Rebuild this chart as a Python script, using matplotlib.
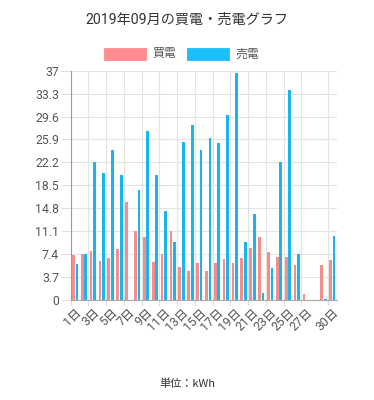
import matplotlib
matplotlib.use("Agg")
import matplotlib.pyplot as plt
from matplotlib.patches import Rectangle
import numpy as np

plt.rcParams['font.family'] = ['Roboto', 'Noto Sans CJK JP', 'DejaVu Sans']

title = "2019年09月の買電・売電グラフ"
days = [f"{d}日" for d in range(1, 31)]
buy = [7.2, 7.5, 7.9, 6.3, 6.7, 8.2, 15.8, 11.1, 10.2, 6.2,
       7.5, 11.1, 5.3, 4.7, 6.0, 4.7, 6.0, 6.6, 6.0, 6.8,
       8.4, 10.2, 7.7, 7.0, 7.0, 5.6, 1.0, 0.0, 5.6, 6.5]
sell = [5.8, 7.5, 22.3, 20.5, 24.2, 20.2, 0.0, 17.7, 27.3, 20.1,
        14.4, 9.4, 25.5, 28.2, 24.2, 26.2, 25.4, 29.9, 36.7, 9.4,
        13.9, 1.1, 5.2, 22.3, 33.9, 7.5, 0.0, 0.0, 0.2, 10.4]
series_names = ["買電", "売電"]
yticks = [0, 3.7, 7.4, 11.1, 14.8, 18.5, 22.2, 25.9, 29.6, 33.3, 37]
ytick_labels = ["0", "3.7", "7.4", "11.1", "14.8", "18.5", "22.2", "25.9", "29.6", "33.3", "37"]
shown_days = [1, 3, 5, 7, 9, 11, 13, 15, 17, 19, 21, 23, 25, 27, 30]
unit_label = "単位：kWh"

pink_face = '#F28E8E'
blue_face = '#1CB4EC'

W, H = 374, 400
fig = plt.figure(figsize=(W / 100, H / 100), dpi=100)
ax = fig.add_axes([70.7 / W, 100 / H, 266 / W, 229.3 / H])

x = np.arange(len(days))
bw = 0.31
ax.bar(x - 0.2, buy, width=bw, color=pink_face, linewidth=0, zorder=3)
ax.bar(x + 0.2, sell, width=bw, color=blue_face, linewidth=0, zorder=3)

ax.set_xlim(-0.5, len(days) - 0.5)
ax.set_ylim(0, 37)
ax.set_yticks(yticks)
ax.set_yticklabels(ytick_labels)
ax.tick_params(axis='y', length=7, width=0.7, color='#dddddd', pad=1.5, labelsize=8.8, labelcolor='#555555')
ax.yaxis.grid(True, color='#e3e3e3', linewidth=0.8, zorder=0)

idx = [d - 1 for d in shown_days]
ax.set_xticks(idx)
ax.set_xticklabels([days[i] for i in idx], rotation=45, ha='right', va='top',
                   rotation_mode='anchor', fontsize=8.8, color='#555555')
ax.tick_params(axis='x', length=0, pad=4)
for i in idx:
    ax.axvline(i - 0.5, color='#e3e3e3', linewidth=0.8, zorder=0)
    ax.plot([i - 0.5, i - 0.5], [0, -0.8], color='#dddddd', linewidth=0.8, clip_on=False)

for s in ['top', 'right']:
    ax.spines[s].set_visible(False)
ax.spines['left'].set_color('#999999')
ax.spines['left'].set_linewidth(0.8)
ax.spines['bottom'].set_color('#aaaaaa')
ax.spines['bottom'].set_linewidth(0.8)

fig.text(0.5, 1 - 20 / H, title, ha='center', va='center', fontsize=10.2, color='#333333')

# legend
for (x0, tx, fc, name) in [(104, 152.7, '#FF8C8E', series_names[0]),
                           (187, 235.7, '#1CBFF7', series_names[1])]:
    fig.patches.append(Rectangle((x0 / W, 1 - 60 / H), 42 / W, 12.3 / H,
                                 transform=fig.transFigure, facecolor=fc, edgecolor=fc, linewidth=0.6))
    fig.text(tx / W, 1 - 54 / H, name, ha='left', va='center', fontsize=8.6, color='#555555')

fig.text(0.5, 1 - 384 / H, unit_label, ha='center', va='center', fontsize=8,
         color='#333333', family=['Noto Sans CJK JP', 'DejaVu Sans'])

fig.savefig("out.png", dpi=100)
